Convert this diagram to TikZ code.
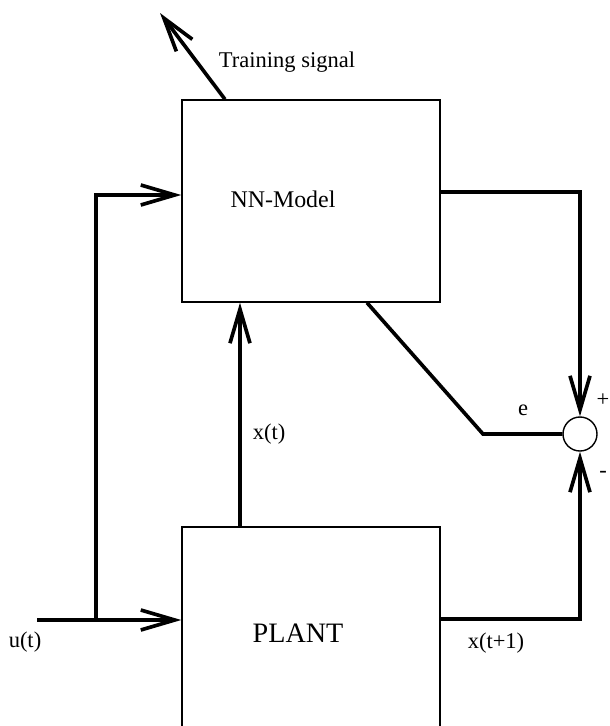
\documentclass[tikz,border=0pt]{standalone}
\usepackage{fontspec}
\setmainfont{Liberation Serif}
\usetikzlibrary{arrows.meta}

\begin{document}
\begin{tikzpicture}[x=0.025cm,y=-0.025cm,
        blocco/.style={draw,line width=1pt,minimum width=6.45cm,inner sep=0pt},
        filo/.style={line width=2.6pt},
        segnale/.style={filo,-{Straight Barb[length=0.85cm,width=0.5cm]}},
        etich/.style={font=\fontsize{16}{19}\selectfont}]

        % Area del disegno (il blocco PLANT esce in basso)
        \useasboundingbox (0,0) rectangle (610,726);
        \clip (0,0) rectangle (610,726);

        % Blocchi principali
        \node[blocco,minimum height=5.05cm] (nn) at (311,201) {};
        \node[blocco,minimum height=5.95cm] (plant) at (311,646) {};
        \node[draw,circle,line width=1pt,minimum size=0.85cm,inner sep=0pt] (sum) at (580,434) {};

        % Scritte dentro i blocchi
        \node[font=\fontsize{17}{20}\selectfont] (nnlbl) at (283,199) {NN-Model};
        \node[font=\fontsize{20}{24}\selectfont] (plantlbl) at (298,633) {PLANT};

        % Punti liberi dei collegamenti
        \coordinate (uin) at (37,620);
        \coordinate (split) at (96,620);
        \coordinate (ebend) at (483,434);
        \coordinate (train) at (160,13);

        % Ingresso u(t) verso PLANT e NN-Model
        \draw[segnale] (uin) -- (uin -| plant.west);
        \draw[segnale] (split) |- ([yshift=0.15cm]nn.west);

        % Stato x(t) dal PLANT al modello
        \draw[segnale] ([xshift=-1.775cm]plant.north) -- ([xshift=-1.775cm]nn.south);

        % Uscite verso il sommatore
        \draw[segnale] ([yshift=0.225cm]nn.east) -| (sum.north);
        \draw[segnale] ([yshift=0.675cm]plant.east) -| (sum.south);

        % Errore e e segnale di addestramento
        \draw[filo] ([xshift=1.4cm]nn.south) -- (ebend) -- (sum.west);
        \draw[segnale] ([xshift=-2.15cm]nn.north) -- (train);

        % Etichette dei segnali
        \node[etich] (trainlbl) at (287,62) {Training signal};
        \node[etich] (ulbl) at (25,642) {u(t)};
        \node[etich] (xlbl) at (269,434) {x(t)};
        \node[etich] (xnlbl) at (496,643) {x(t+1)};
        \node[etich] (elbl) at (523,410) {e};
        \node[etich] (pluslbl) at (603,400) {+};
        \node[etich] (minuslbl) at (603,474) {-};

    \end{tikzpicture}
\end{document}
